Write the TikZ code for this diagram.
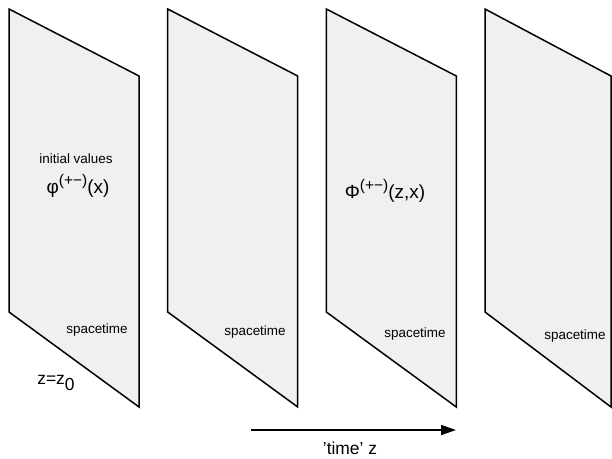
\documentclass[tikz,border=0pt]{standalone}
\usepackage{fontspec}
\setmainfont{Liberation Sans}
\usetikzlibrary{arrows.meta}
\definecolor{panelfill}{HTML}{F0F0F0}
\tikzset{
  panel/.style={draw=black, fill=panelfill, line width=1.5bp, line join=miter},
  small/.style={font=\fontsize{13.5}{16}\selectfont, inner sep=0pt},
  big/.style={font=\fontsize{17.5}{20}\selectfont, inner sep=0pt},
  huge/.style={font=\fontsize{19}{22}\selectfont, inner sep=0pt},
}
\newcommand{\supr}[1]{\raisebox{0.45em}{\fontsize{15.5}{18}\selectfont #1}}
\begin{document}
\begin{tikzpicture}[x=1bp,y=-1bp]
\useasboundingbox (0,0) rectangle (612,459);
% panels
\foreach \x/\w in {9/130, 167.7/130, 326.3/130, 485/126}{
  \draw[panel] (\x,9) -- (\x+\w,76) -- (\x+\w,407) -- (\x,312) -- cycle;
}
% texts
\node[small] (iv) at (76,159) {initial values};
\node[huge] (phi) at (78,186) {φ\supr{(+−)}(x)};
\node[huge] (Phi) at (385,191) {Φ\supr{(+−)}(z,x)};
\node[small] (s1) at (97,330) {spacetime};
\node[small] (s2) at (255,332) {spacetime};
\node[small] (s3) at (415,334) {spacetime};
\node[small] (s4) at (575,336) {spacetime};
\node[big] (z0) at (56,383) {z=z\raisebox{-0.3em}{0}};
% time arrow
\coordinate (a) at (251,430);
\coordinate (b) at (456,430);
\draw[line width=1.4bp, -{Triangle[length=15bp,width=10bp]}] (a) -- (b);
\node[big] (tz) at (350,448) {'time' z};
\end{tikzpicture}
\end{document}
